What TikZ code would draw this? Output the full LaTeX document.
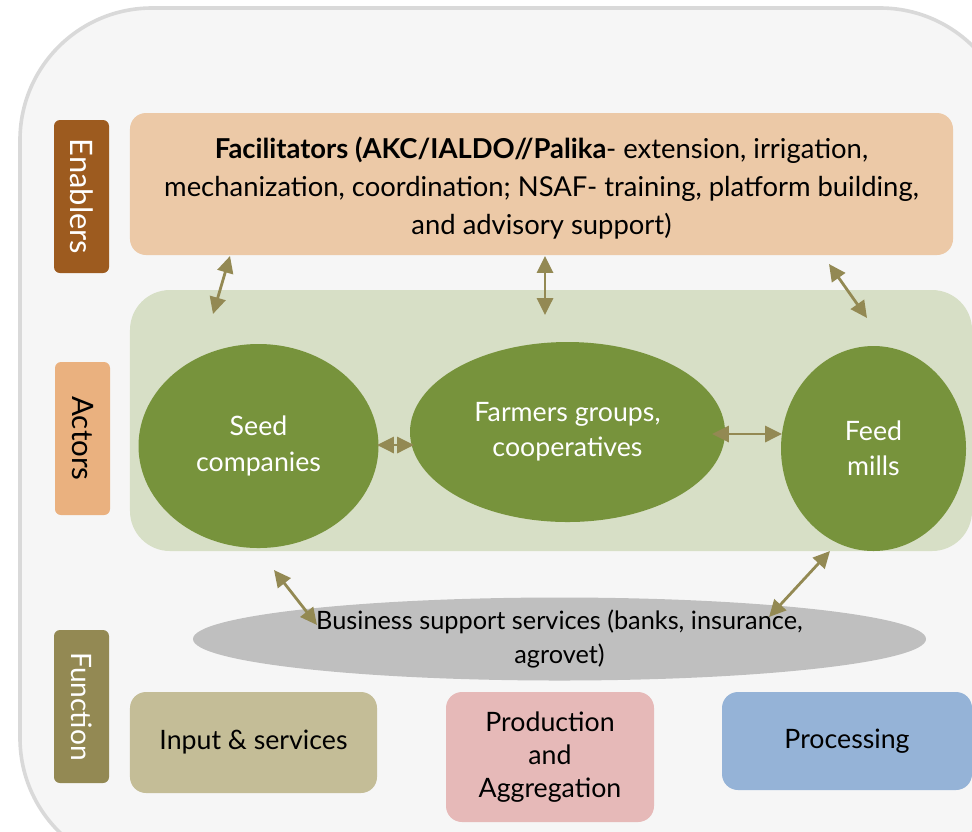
\documentclass[tikz,border=0pt]{standalone}
\usepackage{fontspec}
\setmainfont{Lato}
\usetikzlibrary{positioning,arrows.meta,shapes.geometric}

\definecolor{panelgray}{HTML}{F6F6F6}
\definecolor{panelline}{HTML}{D9D9D9}
\definecolor{enablerbrown}{HTML}{9D5B1F}
\definecolor{actororange}{HTML}{EAB17F}
\definecolor{functionolive}{HTML}{938953}
\definecolor{facilpeach}{HTML}{ECC9A7}
\definecolor{actorpale}{HTML}{D7DFC6}
\definecolor{actorgreen}{HTML}{77933C}
\definecolor{bizgray}{HTML}{BFBFBF}
\definecolor{inputtan}{HTML}{C4BD97}
\definecolor{prodpink}{HTML}{E6B9B8}
\definecolor{procblue}{HTML}{95B3D7}

\begin{document}
\begin{tikzpicture}[x=0.25mm,y=-0.25mm,>={Triangle[length=4.2mm,width=4mm]},
  sidelabel/.style={rounded corners=1.5mm,minimum width=38.25mm,minimum height=13.75mm,
    rotate=-90,inner sep=0pt,font=\fontsize{21}{25}\selectfont},
  stagebox/.style={rounded corners=4mm,align=center,inner sep=0pt,
    font=\fontsize{19}{23.5}\selectfont},
  actor/.style={ellipse,fill=actorgreen,text=white,align=center,inner sep=0pt,
    font=\fontsize{19}{25}\selectfont},
  link/.style={<->,draw=functionolive,line width=0.7mm}]

  \useasboundingbox (0,0) rectangle (972,831);
  \clip (0,0) rectangle (972,831);

  % Background panel
  \draw [fill=panelgray,draw=panelline,line width=0.9mm,rounded corners=33mm]
    (20,8) rectangle (1012,870);

  % Row labels
  \node [sidelabel,fill=enablerbrown,text=white,font=\fontsize{22}{25}\selectfont]
    (enablers) at (81.5,196.5) {Enablers};
  \node [sidelabel,fill=actororange] (actors) at (82.5,438.5) {Actors};
  \node [sidelabel,fill=functionolive,text=white,font=\fontsize{20}{25}\selectfont]
    (function) at (81.5,706.5) {Function};

  % Enablers
  \node [stagebox,fill=facilpeach,minimum width=205.75mm,minimum height=35.5mm,
    font=\fontsize{19.5}{27}\selectfont] (facil) at (541.5,184)
    {\rule{0pt}{7.2mm}\textbf{Facilitators (AKC/IALDO//Palika}- extension, irrigation,\\
     mechanization, coordination; NSAF- training, platform building,\\
     and advisory support)};

  % Actors
  \node [rounded corners=10mm,fill=actorpale,minimum width=210.5mm,minimum height=65.25mm,
    inner sep=0pt] (panel) at (551,420.5) {};
  \node [actor,minimum width=60mm,minimum height=51mm] (seed) at (258.5,446) {Seed\\companies};
  \node [actor,minimum width=78.75mm,minimum height=45mm] (farmers) at (567.5,432)
    {Farmers groups,\\cooperatives};
  \node [actor,minimum width=46.25mm,minimum height=51.25mm] (feed) at (873.5,448.5) {Feed\\mills};
  \node [ellipse,fill=bizgray,minimum width=183.25mm,minimum height=17mm,inner sep=0pt,
    align=center,font=\fontsize{18}{24.5}\selectfont] (biz) at (559.5,639)
    {Business support services (banks, insurance,\\agrovet)};

  % Function
  \node [stagebox,fill=inputtan,minimum width=61.75mm,minimum height=25.25mm] (input)
    at (253.5,742.5) {Input \& services};
  \node [stagebox,fill=prodpink,minimum width=52mm,minimum height=32.5mm] (prod)
    at (550,757) {Production\\and\\Aggregation};
  \node [stagebox,fill=procblue,minimum width=62.5mm,minimum height=24.5mm] (proc)
    at (847,741) {Processing};

  % Link ends
  \coordinate (f1) at (230,256);
  \coordinate (f2) at (545,256);
  \coordinate (f3) at (829,264);
  \coordinate (a1) at (213,314);
  \coordinate (a2) at (545,315);
  \coordinate (a3) at (867,318);
  \coordinate (s1) at (377,445);
  \coordinate (s2) at (414,445);
  \coordinate (m1) at (712,434);
  \coordinate (m2) at (782,434);
  \coordinate (b1) at (274,570);
  \coordinate (b2) at (317,625);
  \coordinate (b3) at (830,551);
  \coordinate (b4) at (769,617);

  % Links
  \draw [link] (f1) -- (a1);
  \draw [link] (f2) -- (a2);
  \draw [link] (f3) -- (a3);
  \draw [link] (s1) -- (s2);
  \draw [link] (m1) -- (m2);
  \draw [link] (b1) -- (b2);
  \draw [link] (b3) -- (b4);

\end{tikzpicture}
\end{document}
